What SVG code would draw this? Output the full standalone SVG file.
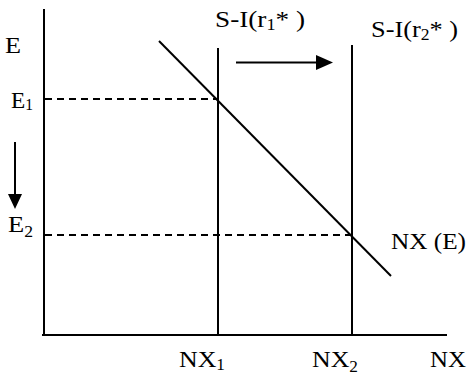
<svg xmlns="http://www.w3.org/2000/svg" width="469" height="377" viewBox="0 0 469 377">
<style>
.ln{stroke:#000;stroke-width:2;fill:none}
.dash{stroke:#000;stroke-width:2;stroke-dasharray:7,5;fill:none}
text{font-family:"Liberation Serif","Times New Roman",serif;font-size:24px;fill:#000}
.sub{font-size:16px}
</style>
<rect width="469" height="377" fill="#fff"/>
<g id="connectors">
<line class="ln" x1="44" y1="9" x2="44" y2="336"/>
<line class="ln" x1="42" y1="335" x2="447" y2="335"/>
<line class="dash" x1="45" y1="99" x2="218" y2="99"/>
<line class="dash" x1="45" y1="235" x2="352" y2="235"/>
<line class="ln" x1="218" y1="48" x2="218" y2="335"/>
<line class="ln" x1="352" y1="45" x2="352" y2="335"/>
<line class="ln" x1="159" y1="41" x2="391" y2="276"/>
<line class="ln" x1="236" y1="62.5" x2="318" y2="62.5"/>
<path d="M316,55 L333,62.5 L316,70 Z" fill="#000"/>
<line class="ln" x1="15" y1="142" x2="15" y2="196"/>
<path d="M8,194 L15,209 L22,194 Z" fill="#000"/>
</g>
<g id="labels">
<text x="5" y="53" textLength="16" lengthAdjust="spacingAndGlyphs">E</text>
<text x="11" y="108" textLength="22" lengthAdjust="spacingAndGlyphs">E<tspan class="sub" dy="2">1</tspan></text>
<text x="8" y="232" textLength="25" lengthAdjust="spacingAndGlyphs">E<tspan class="sub" dy="5">2</tspan></text>
<text x="215" y="27" textLength="90" lengthAdjust="spacingAndGlyphs">S-I(r<tspan class="sub" dy="3">1</tspan><tspan dy="-3">* )</tspan></text>
<text x="371" y="37" textLength="87" lengthAdjust="spacingAndGlyphs">S-I(r<tspan class="sub" dy="3">2</tspan><tspan dy="-3">* )</tspan></text>
<text x="391" y="249" textLength="75" lengthAdjust="spacingAndGlyphs">NX (E)</text>
<text x="179" y="367" textLength="46" lengthAdjust="spacingAndGlyphs">NX<tspan class="sub" dy="3">1</tspan></text>
<text x="312" y="367" textLength="46" lengthAdjust="spacingAndGlyphs">NX<tspan class="sub" dy="5">2</tspan></text>
<text x="430" y="367" textLength="36" lengthAdjust="spacingAndGlyphs">NX</text>
</g>
</svg>
